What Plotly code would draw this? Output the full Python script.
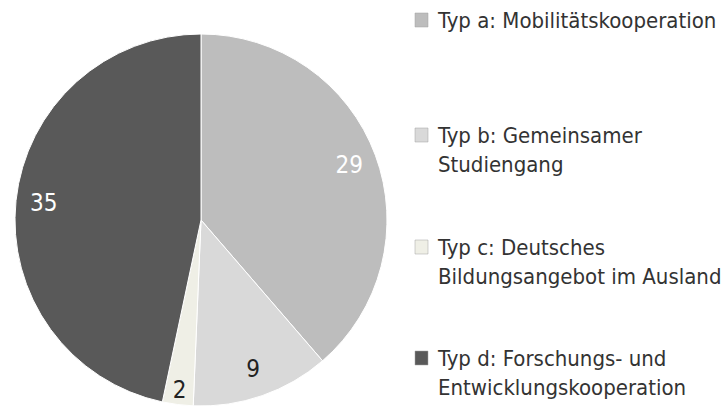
import plotly.graph_objects as go

# Daten
labels = ["Typ a: Mobilitätskooperation",
          "Typ b: Gemeinsamer<br>Studiengang",
          "Typ c: Deutsches<br>Bildungsangebot im Ausland",
          "Typ d: Forschungs- und<br>Entwicklungskooperation"]
values = [29, 9, 2, 35]
colors = ["#bdbdbd", "#d9d9d9", "#efefe6", "#595959"]
text_colors = ["#ffffff", "#222222", "#222222", "#ffffff"]

FONT = "DejaVu Sans Condensed, DejaVu Sans, sans-serif"
W, H = 728, 411
domain = dict(x=[15 / W, 387 / W], y=[1 - 406 / H, 1 - 34 / H])

fig = go.Figure()
# Kuchen ohne Text
fig.add_trace(go.Pie(
    labels=labels, values=values, sort=False, direction="clockwise", rotation=0,
    marker=dict(colors=colors, line=dict(color="#ffffff", width=1)),
    textinfo="none", domain=domain, showlegend=False, hoverinfo="label+value",
))
# transparenter Ring nur fuer die Zahlen (sitzen weit aussen wie im Original)
fig.add_trace(go.Pie(
    labels=labels, values=values, sort=False, direction="clockwise", rotation=0, hole=0.7,
    marker=dict(colors=["rgba(0,0,0,0)"] * len(values), line=dict(width=0)),
    textinfo="value", textposition="inside", insidetextorientation="horizontal",
    textfont=dict(family=FONT, size=24, color=text_colors),
    domain=domain, showlegend=False, hoverinfo="skip",
))

# Legende per Hand (Abstaende wie im Original)
legend_y = [20, 135, 247, 358]
for lab, col, yc in zip(labels, colors, legend_y):
    fig.add_shape(type="rect", xref="paper", yref="paper",
                  x0=415 / W, x1=428 / W, y0=1 - (yc + 7) / H, y1=1 - (yc - 7) / H,
                  fillcolor=col, line=dict(color="#a0a0a0", width=0.5))
    fig.add_annotation(text=lab, xref="paper", yref="paper", x=435 / W, y=1 - (yc - 14) / H,
                       xanchor="left", yanchor="top", align="left", showarrow=False,
                       font=dict(family=FONT, size=22, color="#333333"))

fig.update_layout(
    width=W, height=H, margin=dict(l=0, r=0, t=0, b=0),
    paper_bgcolor="#ffffff", plot_bgcolor="#ffffff",
    uniformtext=dict(minsize=24, mode="show"),
)

fig.write_html("out.html", config={"displayModeBar": False},
               post_script="document.body.style.margin='0';")
